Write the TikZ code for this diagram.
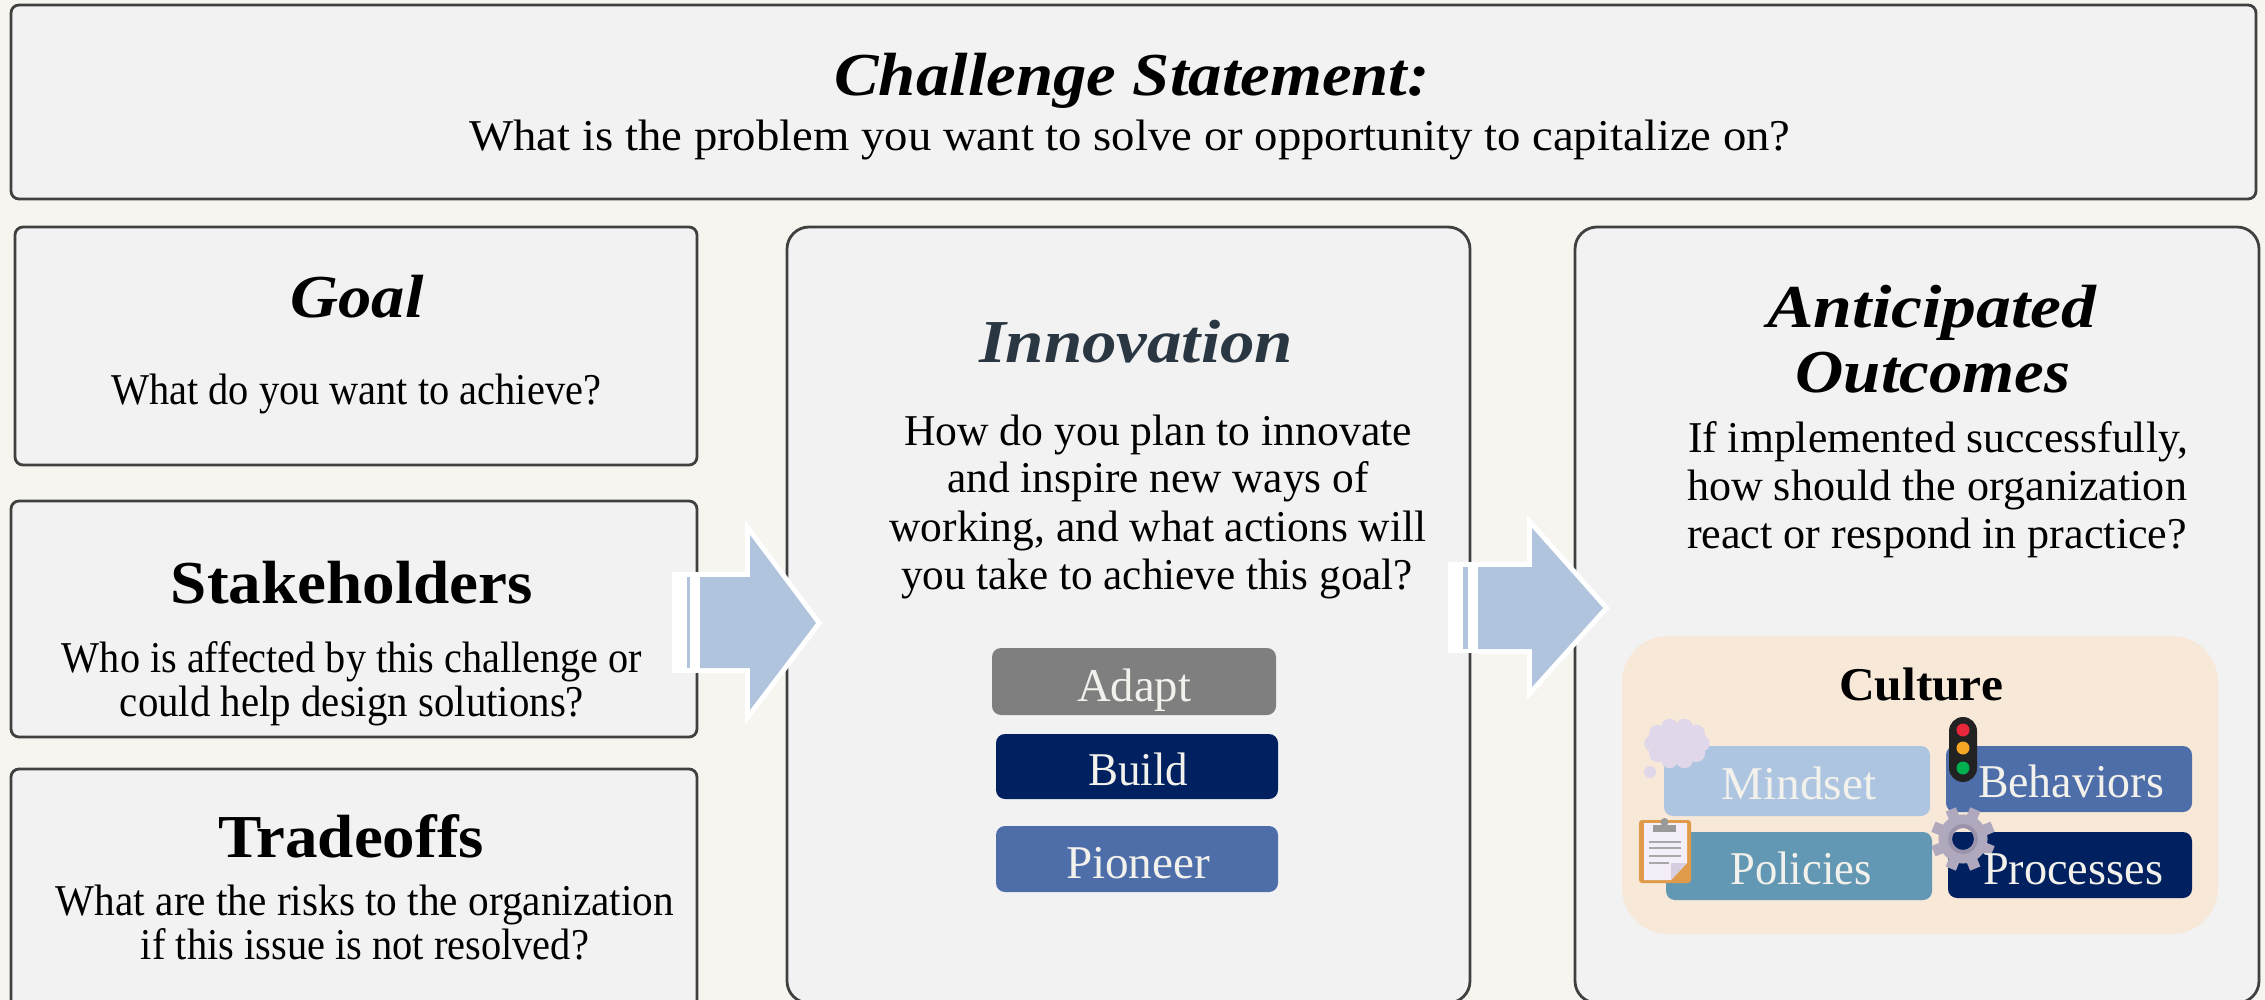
\documentclass[tikz,border=0pt]{standalone}
\usepackage{graphicx}
\usepackage{fontspec}
\setmainfont{Liberation Serif}
\newdimen\pxu \pxu=.5pt
\definecolor{pagebg}{HTML}{F7F5EF}
\definecolor{panel}{HTML}{F2F2F2}
\definecolor{edge}{HTML}{404040}
\definecolor{inktitle}{HTML}{2A3742}
\definecolor{adaptc}{HTML}{7F7F7F}
\definecolor{navyc}{HTML}{002060}
\definecolor{bluec}{HTML}{4E6EA9}
\definecolor{mindc}{HTML}{ADC5E0}
\definecolor{polc}{HTML}{6398B5}
\definecolor{culc}{HTML}{F7E8D8}
\definecolor{arrowc}{HTML}{B0C4DE}
\definecolor{lightt}{HTML}{F3F1EC}
\definecolor{cloudc}{HTML}{E0D8EA}
\definecolor{gearc}{HTML}{B0A9BE}
\definecolor{gearr}{HTML}{9A93AB}
\definecolor{lampbody}{HTML}{222222}
\definecolor{lampr}{HTML}{E8283A}
\definecolor{lampo}{HTML}{F5A623}
\definecolor{lampg}{HTML}{00B050}
\definecolor{boardc}{HTML}{E09B4A}
\definecolor{paperc}{HTML}{F3EEF7}
\definecolor{foldc}{HTML}{D6CDE0}
\definecolor{clipc}{HTML}{999999}
\definecolor{rulec}{HTML}{A8A8A8}
\tikzset{
  x=.5pt,y=-.5pt,
  panelbox/.style={draw=edge,fill=panel,line width=1.4pt,inner sep=0pt,rectangle},
  smallr/.style={panelbox,rounded corners=4pt},
  bigr/.style={panelbox,rounded corners=11pt},
  pill/.style={rectangle,inner sep=0pt,rounded corners=4.5pt},
  culturebox/.style={rectangle,inner sep=0pt,fill=culc,rounded corners=23pt},
  label/.style={anchor=base,inner sep=0pt,outer sep=0pt},
  body/.style={label,font=\fontsize{22}{22}\selectfont},
  btitle/.style={label,font=\fontsize{30.5}{30.5}\selectfont\bfseries},
  ititle/.style={label,font=\fontsize{30.5}{30.5}\selectfont\bfseries\itshape},
  pilltext/.style={label,text=lightt,font=\fontsize{23.5}{23.5}\selectfont},
}
\newcommand\fitw[2]{\resizebox{#1\pxu}{\height}{#2}}
% name, x1, y1, x2, y2, style
\newcommand\boxat[6]{%
  \pgfmathsetmacro\bw{(#4-#2)*.5}\pgfmathsetmacro\bh{(#5-#3)*.5}%
  \pgfmathsetmacro\bx{(#2+#4)/2}\pgfmathsetmacro\by{(#3+#5)/2}%
  \node[#6,minimum width=\bw pt,minimum height=\bh pt] (#1) at (\bx,\by) {};}
\begin{document}
\begin{tikzpicture}
\useasboundingbox (0,0) rectangle (2265,1000);
\clip (0,0) rectangle (2265,1000);
\fill[pagebg] (0,0) rectangle (2265,1000);

\boxat{topbox}{11}{5}{2256}{199}{smallr}
\boxat{goalbox}{15}{227}{697}{465}{smallr}
\boxat{stakebox}{11}{501}{697}{737}{smallr}
\boxat{tradebox}{11}{769}{697}{1040}{smallr}
\boxat{innobox}{787}{227}{1470}{1003}{bigr}
\boxat{outbox}{1575}{227}{2259}{1003}{bigr}

\node[ititle] (chal) at (1132,96) {\fitw{595}{Challenge Statement:}};
\node[body] (chalq) at (1130,151) {\fitw{1321}{What is the problem you want to solve or opportunity to capitalize on?}};

\node[ititle] (goalt) at (357,317) {\fitw{133}{Goal}};
\node[body] (goalq) at (356,404) {\fitw{490}{What do you want to achieve?}};

\node[btitle] (staket) at (352,603) {\fitw{362}{Stakeholders}};
\node[body] (stakeq) at (352,672) {\fitw{580}{Who is affected by this challenge or}};
\node[body] (stakeqb) at (352,716) {\fitw{464}{could help design solutions?}};

\node[btitle] (tradet) at (351,857) {\fitw{266}{Tradeoffs}};
\node[body] (tradeq) at (365,915) {\fitw{618}{What are the risks to the organization}};
\node[body] (tradeqb) at (365,959) {\fitw{448}{if this issue is not resolved?}};

\node[ititle,text=inktitle] (innot) at (1136,363) {\fitw{314}{Innovation}};
\node[body] (innoa) at (1158,445) {\fitw{508}{How do you plan to innovate}};
\node[body] (innob) at (1158,492) {\fitw{421}{and inspire new ways of}};
\node[body] (innoc) at (1158,541) {\fitw{537}{working, and what actions will}};
\node[body] (innod) at (1157,589) {\fitw{512}{you take to achieve this goal?}};

\boxat{adaptb}{992}{648}{1276}{715}{pill,fill=adaptc}
\boxat{buildb}{996}{734}{1278}{799}{pill,fill=navyc}
\boxat{pionb}{996}{826}{1278}{892}{pill,fill=bluec}
\node[pilltext] (adaptt) at (1134,701) {\fitw{114}{Adapt}};
\node[pilltext] (buildt) at (1138,785) {\fitw{100}{Build}};
\node[pilltext] (piont) at (1138,878) {\fitw{144}{Pioneer}};

\node[ititle] (antt) at (1932,328) {\fitw{329}{Anticipated}};
\node[ititle] (antb) at (1933,392) {\fitw{275}{Outcomes}};
\node[body] (outa) at (1938,452) {\fitw{500}{If implemented successfully,}};
\node[body] (outb) at (1937,500) {\fitw{500}{how should the organization}};
\node[body] (outc) at (1937,548) {\fitw{500}{react or respond in practice?}};

\boxat{culbox}{1622}{636}{2218}{934}{culturebox}
\node[label,font=\fontsize{23.5}{23.5}\selectfont\bfseries] (cult) at (1921,700) {\fitw{164}{Culture}};

\boxat{mindb}{1664}{746}{1930}{816}{pill,fill=mindc}
\boxat{behb}{1946}{746}{2192}{812}{pill,fill=bluec}
\boxat{polb}{1666}{832}{1932}{900}{pill,fill=polc}
\boxat{procb}{1948}{832}{2192}{898}{pill,fill=navyc}

% thought cloud
\fill[cloudc] (1677,743.5) ellipse (24 and 18);
\foreach \a in {0,36,...,324}{\fill[cloudc] ({1677+24*cos(\a)},{743.5+17*sin(\a)}) circle (8.6);}
\fill[cloudc] (1650,772) circle (6);

% traffic light
\fill[lampbody,rounded corners=7pt] (1949,717) rectangle (1977,782);
\fill[lampr] (1963,730) circle (6.5);
\fill[lampo] (1963,748) circle (6.5);
\fill[lampg] (1963,768) circle (6.5);

% clipboard
\fill[boardc,rounded corners=1.5pt] (1639,820) rectangle (1691,883);
\fill[paperc] (1644,823) -- (1687,823) -- (1687,863) -- (1671,880) -- (1644,880) -- cycle;
\fill[foldc] (1687,863) -- (1671,880) -- (1671,863) -- cycle;
\fill[clipc] (1653,825) rectangle (1676,832);
\fill[clipc] (1664.5,822) circle (4);
\foreach \yy/\xx in {842/1681,848/1681,856/1681,863/1669}{\draw[rulec,line width=1pt] (1649,\yy) -- (\xx,\yy);}

% gear
\draw[gearc,line width=6.5pt] (1963,839) circle (18);
\draw[gearr,line width=2pt] (1963,839) circle (13);
\foreach \a in {0,45,...,315}{\draw[gearc,line width=5.5pt] ({1963+22*cos(\a+22.5)},{839+22*sin(\a+22.5)}) -- ({1963+32*cos(\a+22.5)},{839+32*sin(\a+22.5)});}

\node[pilltext] (mindt) at (1799,799) {\fitw{155}{Mindset}};
\node[pilltext] (beht) at (2071,797) {\fitw{186}{Behaviors}};
\node[pilltext] (polt) at (1801,884) {\fitw{141}{Policies}};
\node[pilltext] (proct) at (2073,884) {\fitw{180}{Processes}};

% block arrows
\fill[white] (672,572) rectangle (705,673);
\draw[white,line width=5pt,miter limit=10] (700,577) -- (750,577) -- (750,535) -- (816,623) -- (750,710) -- (750,668) -- (700,668);
\fill[arrowc] (700,577) -- (750,577) -- (750,535) -- (816,623) -- (750,710) -- (750,668) -- (700,668) -- cycle;
\fill[arrowc] (687,577) rectangle (690,668);

\fill[white] (1448,562) rectangle (1483,653);
\draw[white,line width=5pt,miter limit=10] (1478,567) -- (1532,567) -- (1532,528) -- (1603,608) -- (1532,687) -- (1532,649) -- (1478,649);
\fill[arrowc] (1478,567) -- (1532,567) -- (1532,528) -- (1603,608) -- (1532,687) -- (1532,649) -- (1478,649) -- cycle;
\fill[arrowc] (1463,567) rectangle (1468,649);
\end{tikzpicture}
\end{document}
